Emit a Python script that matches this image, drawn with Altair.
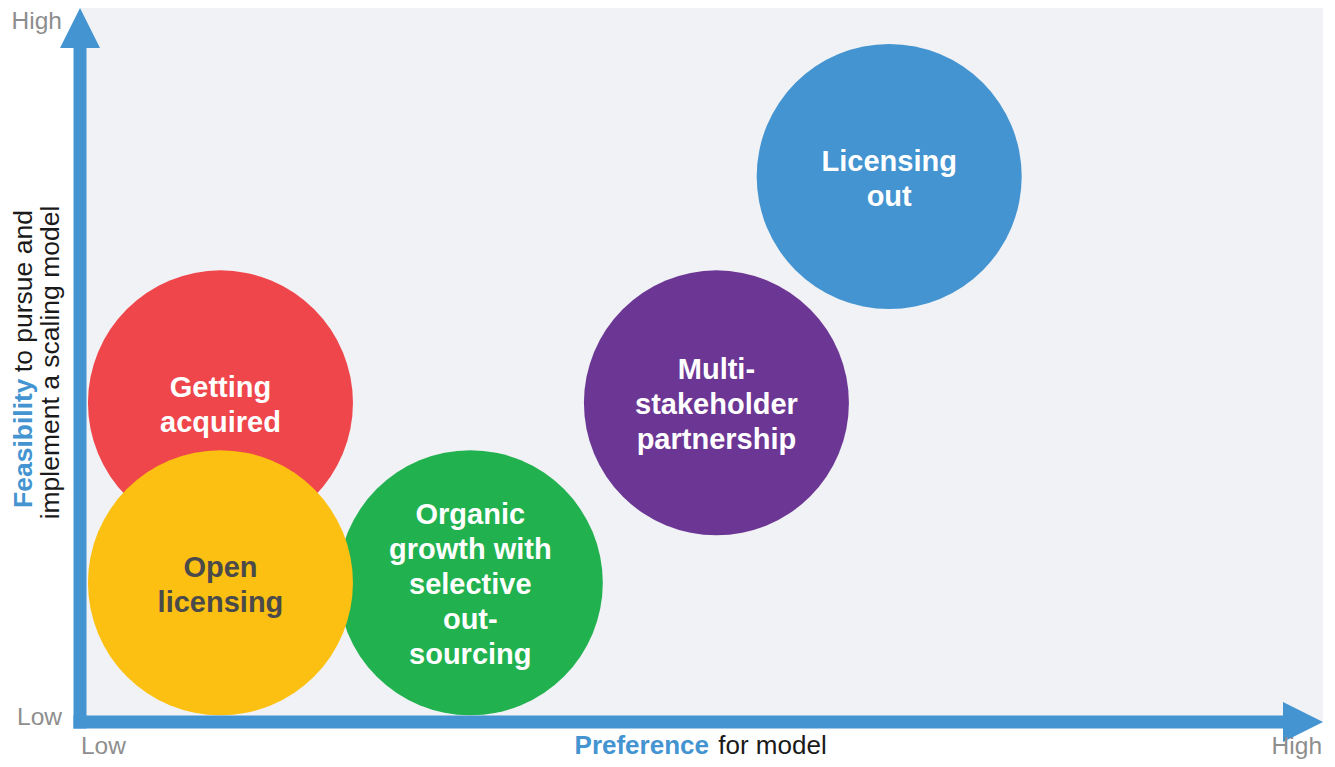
import altair as alt
import pandas as pd

# ---- data ----
models = ["Getting acquired", "Organic growth with selective out-sourcing", "Open licensing",
          "Multi-stakeholder partnership", "Licensing out"]
label_lines = [["Getting", "acquired"],
               ["Organic", "growth with", "selective", "out-", "sourcing"],
               ["Open", "licensing"],
               ["Multi-", "stakeholder", "partnership"],
               ["Licensing", "out"]]
preference = [1.13, 3.14, 1.13, 5.12, 6.51]
feasibility = [4.47, 1.95, 1.95, 4.47, 7.64]
colors = ["#ef464b", "#21b14f", "#fcc012", "#6c3794", "#4394d1"]
text_colors = ["#ffffff", "#ffffff", "#4a4a4a", "#ffffff", "#ffffff"]

FONT = "Liberation Sans, Arial, Helvetica, sans-serif"
AXIS_BLUE = "#4394d1"
GRAY = "#8e8e8e"
LINE_H = 35

df = pd.DataFrame({
    "model": models,
    "lines": label_lines,
    "nlines": [len(l) for l in label_lines],
    "pref": preference,
    "feas": feasibility,
    "color": colors,
    "tcolor": text_colors,
    "order": list(range(len(models))),
})

xs = alt.Scale(domain=[0, 10], nice=False, zero=False)
ys = alt.Scale(domain=[0, 10], nice=False, zero=False)

circles = alt.Chart(df).mark_circle(size=70225, opacity=1).encode(
    x=alt.X("pref:Q", scale=xs, axis=None),
    y=alt.Y("feas:Q", scale=ys, axis=None),
    color=alt.Color("color:N", scale=None),
    order="order:Q",
)

label_layers = []
for n in sorted(set(df["nlines"])):
    label_layers.append(
        alt.Chart(df).transform_filter(alt.datum.nlines == n).mark_text(
            font=FONT, fontSize=29, fontWeight="bold", lineHeight=LINE_H,
            align="center", baseline="middle", dy=-(n - 1) * LINE_H / 2 + 2.5,
        ).encode(
            x=alt.X("pref:Q", scale=xs),
            y=alt.Y("feas:Q", scale=ys),
            text="lines",
            color=alt.Color("tcolor:N", scale=None),
        )
    )

# axis arrows
axis_lines = pd.DataFrame({"x": [0.0, 0.0], "y": [0.0, 0.0], "x2": [0.0, 9.68], "y2": [9.44, 0.0]})
rules = alt.Chart(axis_lines).mark_rule(
    color=AXIS_BLUE, strokeWidth=13, strokeCap="square"
).encode(
    x=alt.X("x:Q", scale=xs), y=alt.Y("y:Q", scale=ys),
    x2="x2:Q", y2="y2:Q",
)

heads = pd.DataFrame({"x": [0.0, 9.839], "y": [9.72, 0.0],
                      "shape": ["M0,-1L1,1L-1,1Z", "M-1,-1L1,0L-1,1Z"]})
arrowheads = alt.Chart(heads).mark_point(
    filled=True, size=1600, opacity=1, color=AXIS_BLUE
).encode(
    x=alt.X("x:Q", scale=xs), y=alt.Y("y:Q", scale=ys),
    shape=alt.Shape("shape:N", scale=None),
)

# end labels
end_text = ["High", "Low", "Low", "High"]
end_x = [-0.145, -0.145, 0.008, 9.992]
end_y = [9.70, -0.042, -0.45, -0.445]
end_align = ["right", "right", "left", "right"]
ends_df = pd.DataFrame({"t": end_text, "x": end_x, "y": end_y, "a": end_align})
end_layers = []
for a in ["left", "right"]:
    end_layers.append(
        alt.Chart(ends_df[ends_df.a == a]).mark_text(
            font=FONT, fontSize=24.5, color=GRAY, align=a, baseline="alphabetic"
        ).encode(x=alt.X("x:Q", scale=xs), y=alt.Y("y:Q", scale=ys), text="t:N")
    )

# axis titles
xt_bold = alt.Chart(pd.DataFrame({"t": ["Preference"], "x": [5.06], "y": [-0.45]})).mark_text(
    font=FONT, fontSize=26, fontWeight="bold", color=AXIS_BLUE, align="right", baseline="alphabetic"
).encode(x=alt.X("x:Q", scale=xs), y=alt.Y("y:Q", scale=ys), text="t:N")
xt_reg = alt.Chart(pd.DataFrame({"t": ["for model"], "x": [5.135], "y": [-0.45]})).mark_text(
    font=FONT, fontSize=26, color="#1a1a1a", align="left", baseline="alphabetic"
).encode(x=alt.X("x:Q", scale=xs), y=alt.Y("y:Q", scale=ys), text="t:N")

yt_bold = alt.Chart(pd.DataFrame({"t": ["Feasibility"], "x": [-0.45], "y": [2.997]})).mark_text(
    font=FONT, fontSize=26.5, fontWeight="bold", color=AXIS_BLUE, align="left", baseline="middle", angle=270
).encode(x=alt.X("x:Q", scale=xs), y=alt.Y("y:Q", scale=ys), text="t:N")
yt_reg1 = alt.Chart(pd.DataFrame({"t": ["to pursue and"], "x": [-0.45], "y": [4.90]})).mark_text(
    font=FONT, fontSize=26.5, color="#1a1a1a", align="left", baseline="middle", angle=270
).encode(x=alt.X("x:Q", scale=xs), y=alt.Y("y:Q", scale=ys), text="t:N")
yt_reg2 = alt.Chart(pd.DataFrame({"t": ["implement a scaling model"], "x": [-0.235], "y": [5.035]})).mark_text(
    font=FONT, fontSize=26.5, color="#1a1a1a", align="center", baseline="middle", angle=270
).encode(x=alt.X("x:Q", scale=xs), y=alt.Y("y:Q", scale=ys), text="t:N")

chart = alt.layer(
    circles, *label_layers, rules, arrowheads, *end_layers, xt_bold, xt_reg, yt_bold, yt_reg1, yt_reg2
).properties(
    width=1243, height=714,
    padding={"left": 72, "top": 0, "right": 4, "bottom": 37},
    autosize=alt.AutoSizeParams(type="none"),
    background="#ffffff",
).configure_view(fill="#f1f2f5", strokeWidth=0)

chart.save("out.html", embed_options={"renderer": "svg", "actions": False})
